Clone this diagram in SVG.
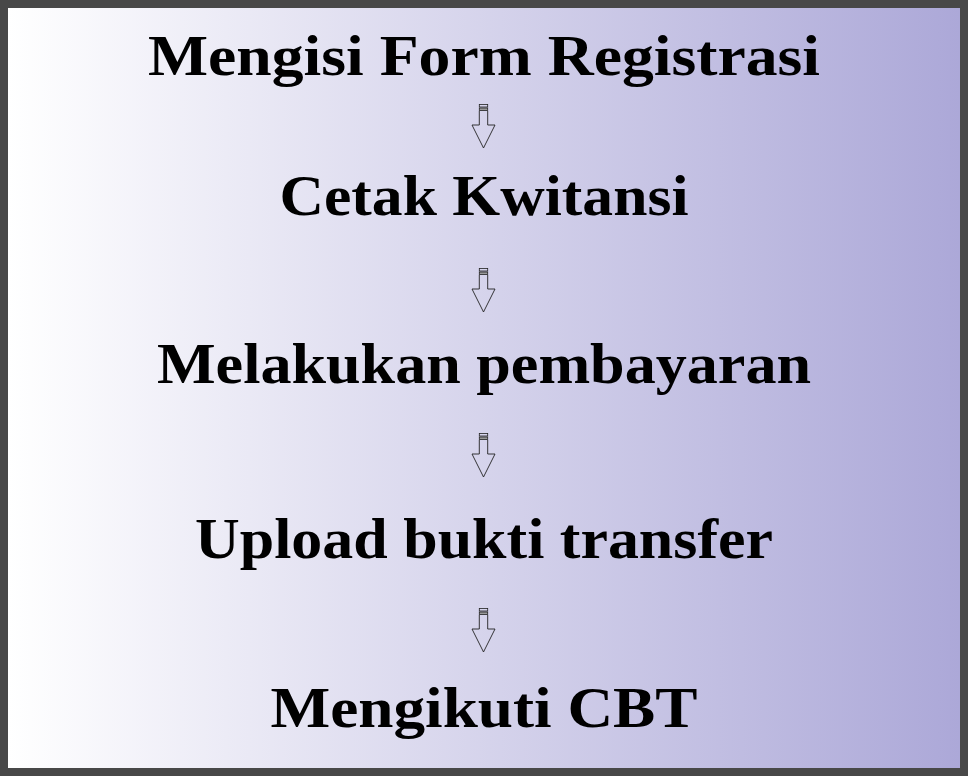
<svg xmlns="http://www.w3.org/2000/svg" width="968" height="776" viewBox="0 0 968 776">
<defs>
<linearGradient id="bg" x1="0" y1="0" x2="1" y2="0">
<stop offset="0" stop-color="#ffffff"/>
<stop offset="1" stop-color="#aca8d8"/>
</linearGradient>
<g id="arr">
<rect x="-4.2" y="0.5" width="8.4" height="2.5" fill="none" stroke="#222" stroke-width="0.8"/>
<rect x="-4.2" y="4" width="8.4" height="2.5" fill="#999" stroke="#222" stroke-width="0.8"/>
<path d="M-4.2,7 V21 H-11.5 L0,44 L11.5,21 H4.2 V7" fill="none" stroke="#222" stroke-width="0.9"/>
</g>
</defs>
<style>
.t{font-family:"Liberation Serif","Times New Roman",serif;font-weight:bold;font-size:56px;fill:#000;text-anchor:middle}
</style>
<rect x="0" y="0" width="968" height="776" fill="#484848"/>
<rect x="8" y="8" width="952" height="760" fill="url(#bg)"/>
<g id="connectors">
<use href="#arr" x="483.5" y="104"/>
<use href="#arr" x="483.5" y="268"/>
<use href="#arr" x="483.5" y="433"/>
<use href="#arr" x="483.5" y="608"/>
</g>
<g id="n1"><text class="t" x="484" y="75" textLength="672" lengthAdjust="spacingAndGlyphs">Mengisi Form Registrasi</text></g>
<g id="n2"><text class="t" x="484" y="215" textLength="409" lengthAdjust="spacingAndGlyphs">Cetak Kwitansi</text></g>
<g id="n3"><text class="t" x="484" y="383" textLength="654" lengthAdjust="spacingAndGlyphs">Melakukan pembayaran</text></g>
<g id="n4"><text class="t" x="484" y="558" textLength="578" lengthAdjust="spacingAndGlyphs">Upload bukti transfer</text></g>
<g id="n5"><text class="t" x="484" y="727" textLength="427" lengthAdjust="spacingAndGlyphs">Mengikuti CBT</text></g>
</svg>
